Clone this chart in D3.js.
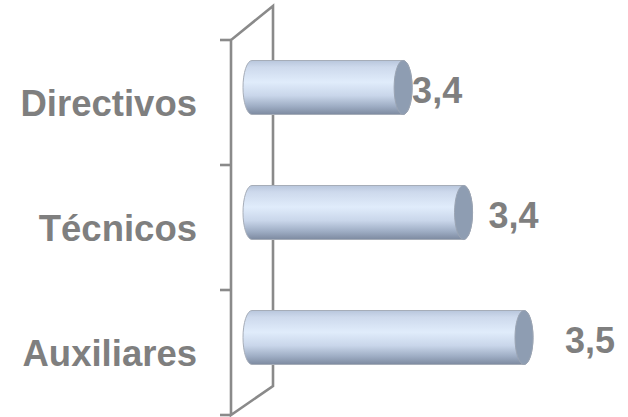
<!DOCTYPE html>
<html>
<head>
<meta charset="utf-8">
<script src="https://cdn.jsdelivr.net/npm/d3@7"></script>
<style>
  body { margin: 0; background: #fff; }
  svg { display: block; }
</style>
</head>
<body>
<div class="chart-box"></div>
<script>
// chart data
var categories = ['Directivos', 'Técnicos', 'Auxiliares']
var values = [3.38, 3.44, 3.50]
var valueLabels = ['3,4', '3,4', '3,5']

var width = 628
var height = 417

var svg = d3.select('div.chart-box')
    .append('svg')
    .attr('width', width)
    .attr('height', height)

// front plane of the category axis
var y = d3.scaleBand()
    .domain(categories)
    .range([40, 415])

// the value axis doesn't start at zero in the original
var x = d3.scaleLinear()
    .domain([3.23, 3.5])
    .range([252, 524])

var axisX = 231
var depth = { dx: 42, top: 34, bottom: 29 }
var gray = '#8a8a8a'

// gradient for the cylinders
var defs = svg.append('defs')
var grad = defs.append('linearGradient')
    .attr('id', 'cyl')
    .attr('x1', 0).attr('y1', 0).attr('x2', 0).attr('y2', 1)
grad.selectAll('stop')
    .data([[0, '#b8c6dc'], [0.12, '#cdd9ec'], [0.4, '#e0ecfb'], [0.65, '#c9d6ea'], [0.85, '#9eadc4'], [1, '#7d8aa0']])
    .enter().append('stop')
    .attr('offset', function(d) { return d[0] })
    .attr('stop-color', function(d) { return d[1] })

// the side wall (a 3D parallelogram)
var y0 = y.range()[0], y1 = y.range()[1]
svg.append('path')
    .attr('d', 'M' + axisX + ',' + y1 + 'V' + y0 +
               'L' + (axisX + depth.dx) + ',' + (y0 - depth.top) +
               'V' + (y1 - depth.bottom) + 'Z')
    .style('fill', 'none')
    .style('stroke', gray)
    .style('stroke-width', 2.6)
    .style('stroke-linejoin', 'miter')

// tick marks at the band boundaries
var ticks = categories.map(function(c) { return y(c) }).concat([y1])
svg.selectAll('.tick')
    .data(ticks)
    .enter().append('line')
    .attr('class', 'tick')
    .attr('x1', axisX - 11).attr('x2', axisX)
    .attr('y1', function(d) { return d }).attr('y2', function(d) { return d })
    .style('stroke', gray)
    .style('stroke-width', 2.6)

// bars as cylinders
var barH = 54
var rx = 9, ry = barH / 2
var lift = 15  // bars sit mid-depth, so they look shifted up

var bar = svg.selectAll('.bar')
    .data(values)
    .enter().append('g')
    .attr('class', 'bar')

function cy(i) { return y(categories[i]) + y.bandwidth() / 2 - lift }

bar.append('path')
    .attr('d', function(d, i) {
        var xl = x.range()[0], xr = x(d), yt = cy(i) - ry, yb = cy(i) + ry
        return 'M' + xl + ',' + yt + 'H' + xr +
               'A' + rx + ',' + ry + ' 0 0 1 ' + xr + ',' + yb +
               'H' + xl +
               'A' + rx + ',' + ry + ' 0 0 1 ' + xl + ',' + yt + 'Z'
    })
    .style('fill', 'url(#cyl)')
    .style('stroke', '#a6adb8')
    .style('stroke-width', 1)

bar.append('ellipse')
    .attr('cx', function(d) { return x(d) })
    .attr('cy', function(d, i) { return cy(i) })
    .attr('rx', rx)
    .attr('ry', ry)
    .style('fill', '#8e9db2')
    .style('stroke', '#9aa4b3')
    .style('stroke-width', 1)

// category labels
svg.selectAll('.cat')
    .data(categories)
    .enter().append('text')
    .attr('class', 'cat')
    .attr('x', 197)
    .attr('y', function(d) { return y(d) + y.bandwidth() / 2 + 13 })
    .attr('text-anchor', 'end')
    .style('font-family', 'Arial, "Liberation Sans", sans-serif')
    .style('font-weight', 'bold')
    .style('font-size', '36.5px')
    .style('fill', '#7f7f7f')
    .text(function(d) { return d })

// value labels, Excel pushes them out further as the bars get longer
svg.selectAll('.val')
    .data(values)
    .enter().append('text')
    .attr('class', 'val')
    .attr('x', function(d, i) { return x(d) + rx + i * 16 })
    .attr('y', function(d, i) { return cy(i) + 15 })
    .style('font-family', 'Arial, "Liberation Sans", sans-serif')
    .style('font-weight', 'bold')
    .style('font-size', '36px')
    .style('fill', '#7f7f7f')
    .text(function(d, i) { return valueLabels[i] })
</script>
</body>
</html>
